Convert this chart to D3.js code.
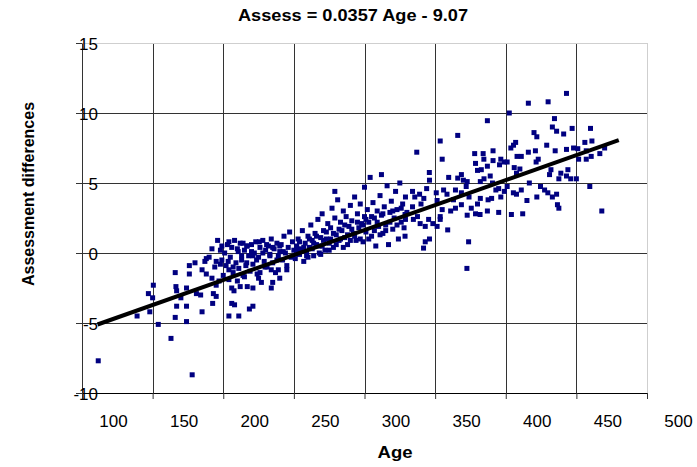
<!DOCTYPE html>
<html>
<head>
<meta charset="utf-8">
<script src="https://cdn.jsdelivr.net/npm/d3@7"></script>
<style>
    body { margin: 0; background: #fff; }
    text { font-family: "Liberation Sans", Arial, sans-serif; }
</style>
</head>
<body>
<svg id="chart" width="697" height="467"></svg>
<script>
// regression from the title
let slope = 0.0357
let intercept = -9.07
let lineAges = [111, 480]

let xTicks = [100, 150, 200, 250, 300, 350, 400, 450, 500]
let yTicks = [-10, -5, 0, 5, 10, 15]

// [age, assessment difference]
let youngPoints = [
    [111.5, -7.7], [178, -8.7], [163, -6.1], [139, -4.5], [148, -4.2], [154, -5.1], [166, -4.6], [174, -4.9],
    [167, -3.8], [174, -3.8], [185, -4.2], [192.5, -3.6], [147, -2.9], [150.5, -2.3], [150, -3.2], [166.5, -2.4],
    [167, -2.7], [174, -2.5], [170, -3.2], [181, -2.9], [184, -3.0], [166, -1.4], [176, -1.5], [176, -0.9],
    [180, -0.7], [185, -1.2], [187, -0.6], [188, -0.4], [192, -1.8], [195, -0.6], [198, -0.8], [193, -2.9],
    [195, -3.1], [195, -2.3], [198, 0.2], [199, 0.5], [204, 0.8], [203.5, -0.6], [204, -1.2], [206, -2.5],
    [207.6, -2.7], [206, -3.6], [208, -3.7], [204, -4.5], [211, -4.5], [218.5, -4.0], [221, -3.8], [217, -2.4],
    [221, -2.5], [212, -2.4], [215, -1.7], [225, -1.8], [226, -1.4], [207, -1.0], [213, -0.2], [216.6, -0.7],
    [210.6, 0.1], [214, 0.7], [216.6, 0.5], [221, -0.2], [223.6, -0.5], [229.6, -1.0], [234, -2.5], [235, -2.1],
    [240, -1.8], [239, -1.2], [234, -1.2], [225.5, 0.8], [230.7, 0.6], [235, 0.4], [240, 0.5], [242.5, 0.1],
    [228, 0], [233, -0.2], [238, -0.5], [245, -1.2], [220, 0.1],
    [188, -1.5], [190, -0.3], [192, 0.3], [194, -1.0], [196, 0.9], [197, -2.0], [199, -0.5], [200, -1.6],
    [201, 0.0], [202, -0.9], [203, 0.6], [204, -1.9], [205, -0.3], [206, 0.4], [207, -1.4], [208, 0.9],
    [209, -0.7], [210, -2.0], [210, 0.3], [211, -1.1], [212, 0.7], [213, -0.5], [214, -1.6], [215, 0.2],
    [216, -0.9], [217, 0.5], [218, -0.2], [219, -1.3], [220, 0.6], [221, -0.8], [222, 0.0], [223, 0.8],
    [224, -1.5], [225, -0.3], [226, 0.4], [227, -2.1], [228, 0.9], [229, -0.6], [230, 0.2], [231, -1.0],
    [232, 0.5], [233, -0.1], [234, 1.0], [235, -0.7], [236, 0.3], [237, -1.4], [238, 0.7], [239, -0.2],
    [240, 0.1], [241, 0.6], [242, -0.5], [243, 1.2], [244, 0.0], [245, -0.9], [246, 0.4], [247, 1.5],
    [248, -0.3], [249, 0.8], [250, 0.2]
]

let middlePoints = [
    [251, -0.4], [252, 0.5], [253, 1.0], [254, -0.1], [255, 0.3], [256, 1.6], [257, -0.6], [258, 0.7],
    [259, 0.1], [260, 1.2], [260, -0.3], [261, 0.4], [262, 2.0], [263, 0.9], [264, -0.2], [265, 1.4],
    [266, 0.6], [267, 2.4], [268, 0.0], [269, 1.1], [270, 0.5], [270, 2.8], [271, 1.6], [272, 0.2],
    [273, 1.0], [274, 2.1], [275, 0.7], [276, 1.8], [277, 3.2], [278, 0.4], [279, 4.4], [279, 2.5],
    [280, 1.3], [281, 3.8], [282, 0.9], [283, 2.2], [284, 1.6], [285, 3.0], [286, 1.1], [287, 2.6],
    [288, 0.6], [289, 1.9], [290, 3.4], [291, 2.3], [292, 1.4], [293, 4.0], [294, 0.9], [295, 2.8],
    [296, 1.8], [297, 3.5], [298, 2.1], [299, 0.8], [300, 2.6], [300, 4.7], [301, 1.5], [302, 3.1],
    [303, 2.2], [304, 5.4], [305, 1.2], [306, 3.6], [307, 2.5], [308, 0.5], [309, 3.0], [310, 1.9],
    [311, 4.1], [312, 2.7], [312, 5.6], [313, 1.4], [314, 3.3], [315, 2.0], [316, 4.8], [317, 0.6],
    [318, 2.9], [319, 3.7], [320, 1.7], [321, 2.5], [322, 4.4], [323, 3.1], [324, 1.0], [325, 5.0],
    [326, 2.2], [327, 3.5], [328, 1.8], [329, 4.0], [330, 2.9],
    [252, 0.2], [254, 0.8], [257, 0.4], [259, -0.2], [261, 1.0], [263, 0.3], [264, 0.7], [266, 1.2],
    [268, 0.5], [269, -0.1], [271, 0.9], [273, 1.5], [275, 0.2], [276, 1.0], [278, 1.4], [280, 0.6],
    [282, 1.7], [283, 1.0], [285, 0.4], [286, 2.0], [288, 1.3], [290, 0.9], [291, 1.7], [293, 1.2],
    [295, 2.2], [297, 1.0], [299, 2.0], [301, 2.4], [303, 1.0], [305, 2.6], [307, 1.6], [309, 2.2],
    [311, 1.3], [313, 2.8], [315, 1.6], [318, 2.2], [320, 3.0], [323, 2.0], [326, 3.2], [329, 2.4],
    [328.7, 2.75], [328.7, 1.2], [334.6, 2.4], [337.5, 2.6], [339.4, 2.1], [343, 1.9], [345.4, 2.4],
    [348.4, 2.1], [351.4, 1.9], [353.6, 2.4], [358.9, 1.65], [343, 0.8], [341.8, 0.35], [346, 1.0],
    [373.7, 0.8], [372.5, -1.1]
]

let oldPoints = [
    [443, 11.4], [430, 10.8], [416, 10.7], [402.5, 10.0], [387, 9.45], [434.5, 9.6], [433, 9.0], [436, 8.7],
    [441, 8.5], [447, 8.9], [460, 8.9], [461, 8.0], [456, 7.9], [420, 8.6], [422, 8.3], [407, 7.9],
    [405.5, 7.7], [366, 8.4], [353.6, 8.0], [337, 7.2], [355, 6.7], [378, 7.1], [384, 7.1], [391, 7.3],
    [403.6, 7.5], [416, 7.2], [421, 7.3], [429, 7.7], [435, 7.3], [443, 7.4], [448, 7.5], [451, 7.45],
    [457, 7.3], [460.5, 6.9], [466.6, 7.1], [470, 7.5], [451.6, 6.7], [457, 6.7], [378.6, 6.4], [384.5, 6.7],
    [387, 6.2], [382.7, 5.95], [380, 5.9], [391, 6.6], [396.5, 6.7], [399, 6.5], [395.6, 6.3], [401, 6.5],
    [408, 6.9], [411, 6.9], [406, 6.1], [410, 6.0], [407.6, 5.7], [421.5, 6.5], [423, 6.7], [432, 5.95],
    [431, 5.6], [439, 5.7], [437.6, 5.3], [444, 5.95], [443, 5.5], [446, 5.3], [450, 5.3], [459.5, 4.75],
    [468, 3.0], [437.6, 3.2], [436.6, 3.45], [436, 4.2], [433, 4.0], [429.8, 4.3], [427.5, 4.5], [424.6, 4.75],
    [422, 4.0], [416.7, 5.0], [415, 3.75], [412, 2.8], [411, 4.5], [407.6, 4.2], [405.4, 4.3], [404, 2.75],
    [401, 4.75], [399, 4.4], [396.5, 4.0], [395, 4.6], [393, 4.5], [390.6, 5.0], [389, 5.5], [384.6, 5.3],
    [382, 5.1], [390, 3.9], [387.5, 3.8], [382, 3.9], [380, 3.5], [381.8, 2.75], [378.6, 2.8], [387, 3.0],
    [395, 2.9], [374, 4.0], [372, 4.75], [370, 5.2], [368.6, 5.6], [372.7, 5.1], [366, 5.35], [359.6, 5.4],
    [364.4, 4.5], [368.6, 4.3], [375.6, 3.2], [368.6, 3.45], [372.7, 2.7], [361, 3.0], [364.4, 3.2], [355, 3.1],
    [353.6, 2.6], [350.8, 4.3], [356, 4.5], [358.4, 4.2], [351.4, 3.75], [345.9, 5.75], [346, 5.2], [344, 4.6],
    [342, 3.9], [339, 4.2], [335.6, 4.0], [334, 4.4], [334, 3.3], [340, 3.5], [363, 3.8]
]

let width = 697
let height = 467
let margin = { left: 82, right: 50, top: 43, bottom: 74 }

let svg = d3.select("#chart")

let xScale = d3.scaleLinear()
    .domain([100, 500])
    .range([margin.left, width - margin.right])
let yScale = d3.scaleLinear()
    .domain([-10, 15])
    .range([height - margin.bottom, margin.top])

// 网格线
let grid = svg.append("g")
grid.selectAll(".vgrid")
    .data(xTicks.slice(1))
    .enter()
    .append("line")
    .attr("x1", d => Math.round(xScale(d)) + 0.5)
    .attr("x2", d => Math.round(xScale(d)) + 0.5)
    .attr("y1", yScale(15))
    .attr("y2", yScale(-10))
    .attr("stroke", d => d == 500 ? "#cfcfcf" : "#333")
grid.selectAll(".hgrid")
    .data(yTicks.slice(1))
    .enter()
    .append("line")
    .attr("x1", xScale(100))
    .attr("x2", xScale(500))
    .attr("y1", d => Math.round(yScale(d)) + 0.5)
    .attr("y2", d => Math.round(yScale(d)) + 0.5)
    .attr("stroke", d => d == 15 ? "#cfcfcf" : "#333")

// 坐标轴
let xAxis = svg.append("g")
    .attr("transform", "translate(0," + yScale(-10) + ")")
    .call(d3.axisBottom(xScale).tickValues(xTicks).tickSize(6).tickSizeOuter(0).tickFormat(d => String(d)))
xAxis.select(".domain").attr("stroke", "#000")
xAxis.selectAll("line").attr("stroke", "#333")
xAxis.selectAll("text")
    .attr("y", 22)
    .attr("dx", 31)
    .attr("font-size", "17px")
    .attr("font-family", "'Liberation Sans', Arial, sans-serif")
    .attr("fill", "#000")

let yAxis = svg.append("g")
    .attr("transform", "translate(" + xScale(100) + ",0)")
    .call(d3.axisLeft(yScale).tickValues(yTicks).tickSize(6).tickSizeOuter(0).tickFormat(d => String(d)))
yAxis.select(".domain").attr("stroke", "#333")
yAxis.selectAll("line").attr("stroke", "#333")
yAxis.selectAll("text")
    .attr("x", 16)
    .attr("dy", "0.36em")
    .attr("font-size", "17px")
    .attr("font-family", "'Liberation Sans', Arial, sans-serif")
    .attr("fill", "#000")

// 数据点
let allPoints = youngPoints.concat(middlePoints, oldPoints)
let size = 5
svg.append("g")
    .selectAll("rect")
    .data(allPoints)
    .enter()
    .append("rect")
    .attr("x", d => xScale(d[0]) - size / 2)
    .attr("y", d => yScale(d[1]) - size / 2)
    .attr("width", size)
    .attr("height", size)
    .attr("fill", "#000080")

// 回归线
let line = d3.line()
    .x(d => xScale(d))
    .y(d => yScale(slope * d + intercept))
svg.append("path")
    .datum(lineAges)
    .attr("d", line)
    .attr("fill", "none")
    .attr("stroke", "#000")
    .attr("stroke-width", 4)

// 标题
svg.append("text")
    .attr("x", 353)
    .attr("y", 21)
    .attr("text-anchor", "middle")
    .attr("font-size", "16px")
    .attr("font-weight", "bold")
    .attr("textLength", 230)
    .attr("lengthAdjust", "spacingAndGlyphs")
    .text("Assess = 0.0357 Age - 9.07")

svg.append("text")
    .attr("x", 395)
    .attr("y", 458)
    .attr("text-anchor", "middle")
    .attr("font-size", "16px")
    .attr("font-weight", "bold")
    .attr("textLength", 35)
    .attr("lengthAdjust", "spacingAndGlyphs")
    .text("Age")

svg.append("text")
    .attr("transform", "translate(34,194) rotate(-90)")
    .attr("text-anchor", "middle")
    .attr("font-size", "16px")
    .attr("font-weight", "bold")
    .text("Assessment differences")
</script>
</body>
</html>
